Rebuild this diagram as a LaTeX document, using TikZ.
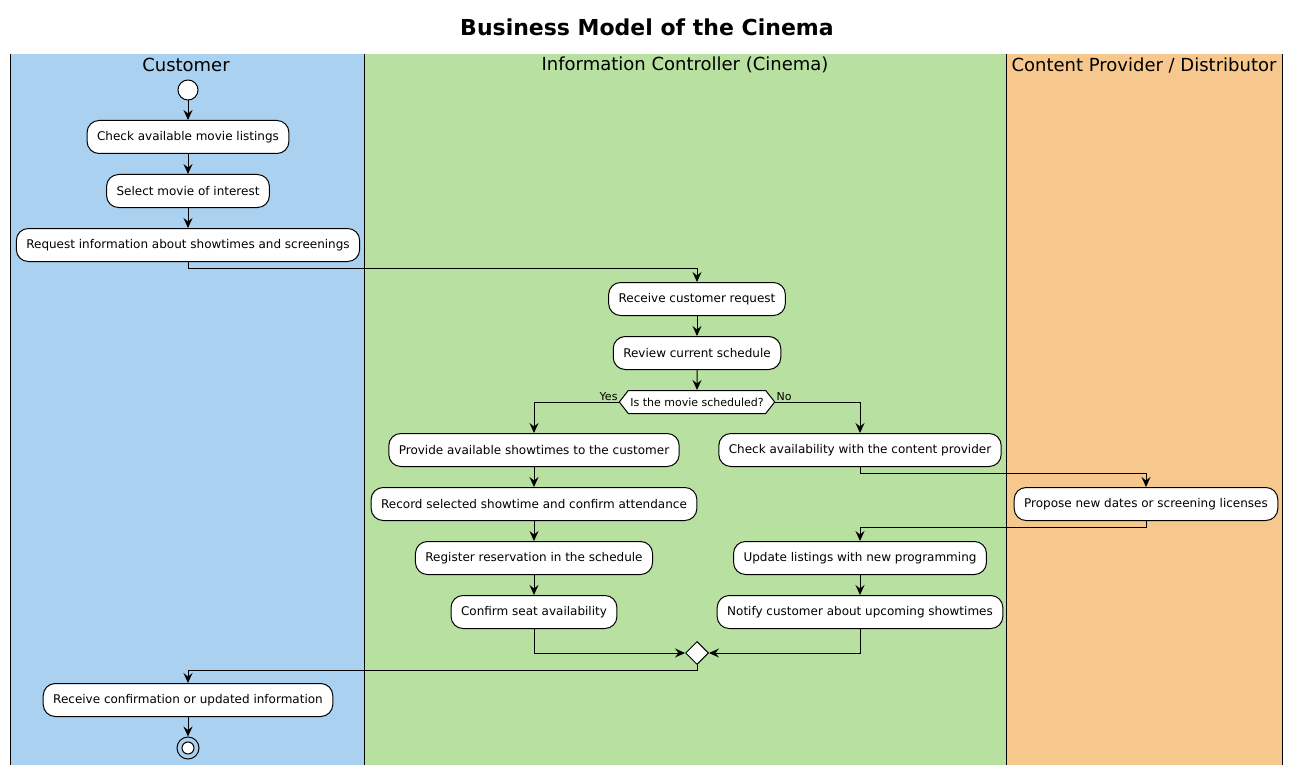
\documentclass[tikz,border=0pt]{standalone}
\usepackage{fontspec}
\setmainfont{DejaVu Sans}
\usetikzlibrary{arrows.meta,shapes.geometric,shapes.symbols}
\definecolor{laneblue}{RGB}{170,210,240}
\definecolor{lanegreen}{RGB}{184,224,160}
\definecolor{laneorange}{RGB}{246,200,142}
\tikzset{
  act/.style={draw=black,line width=1pt,fill=white,rounded corners=12pt,minimum height=33pt,inner xsep=10pt,font=\fontsize{12}{14}\selectfont},
  flow/.style={line width=1pt,-{Stealth[length=10pt,width=9pt,inset=3.5pt]}},
  lanehead/.style={font=\fontsize{18}{21}\selectfont},
  lanesep/.style={line width=1pt},
  guard/.style={font=\fontsize{11}{13}\selectfont,inner sep=1pt}
}
\begin{document}
\begin{tikzpicture}[x=1pt,y=-1pt]
\useasboundingbox (0,0) rectangle (1296,765);
\fill[white] (0,0) rectangle (1296,765);
% lanes
\fill[laneblue] (10,54) rectangle (364,765);
\fill[lanegreen] (364,54) rectangle (1006,765);
\fill[laneorange] (1006,54) rectangle (1282,765);
\draw[lanesep] (10,54) -- (10,765);
\draw[lanesep] (364,54) -- (364,765);
\draw[lanesep] (1006,54) -- (1006,765);
\draw[lanesep] (1282,54) -- (1282,765);
\node[font=\fontsize{22}{26}\selectfont\bfseries] (title) at (647,27) {Business Model of the Cinema};
\node[lanehead] (h1) at (186,65) {Customer};
\node[lanehead] (h2) at (685,65) {Information Controller (Cinema)};
\node[lanehead] (h3) at (1144,65) {Content Provider / Distributor};
% nodes
\node[circle,draw,line width=1pt,fill=white,minimum size=20pt,inner sep=0pt] (start) at (188,90) {};
\node[act] (a1) at (188,137) {Check available movie listings};
\node[act] (a2) at (188,191) {Select movie of interest};
\node[act] (a3) at (188,245) {Request information about showtimes and screenings};
\node[act] (b1) at (697,299) {Receive customer request};
\node[act] (b2) at (697,353) {Review current schedule};
\node[signal,signal to=west and east,signal pointer angle=104,draw,line width=1pt,fill=white,minimum height=23pt,inner xsep=2pt,inner ysep=0pt,font=\fontsize{11}{13}\selectfont] (d) at (697,402) {Is the movie scheduled?};
\node[act] (c1) at (534,450) {Provide available showtimes to the customer};
\node[act] (c2) at (534,504) {Record selected showtime and confirm attendance};
\node[act] (c3) at (534,558) {Register reservation in the schedule};
\node[act] (c4) at (534,612) {Confirm seat availability};
\node[act] (e1) at (860,450) {Check availability with the content provider};
\node[act] (p1) at (1146,504) {Propose new dates or screening licenses};
\node[act] (e2) at (860,558) {Update listings with new programming};
\node[act] (e3) at (860,612) {Notify customer about upcoming showtimes};
\node[diamond,draw,line width=1pt,fill=white,minimum width=23pt,minimum height=23pt,inner sep=0pt] (m) at (697,653) {};
\node[act] (r) at (188,700) {Receive confirmation or updated information};
\node[circle,draw,line width=1pt,minimum size=22pt,inner sep=0pt] (end) at (188,748) {};
\node[circle,draw,line width=1pt,fill=white,minimum size=12pt,inner sep=0pt] (endin) at (188,748) {};
% connectors
\draw[flow] (start) -- (a1);
\draw[flow] (a1) -- (a2);
\draw[flow] (a2) -- (a3);
\draw[flow] (a3.south) -- ++(0,6) -| (b1.north);
\draw[flow] (b1) -- (b2);
\draw[flow] (b2) -- (d);
\draw[flow] (d.west) -| (c1.north);
\draw[flow] (d.east) -| (e1.north);
\node[guard,anchor=south east] (yes) at (d.west) {Yes};
\node[guard,anchor=south west] (no) at (d.east) {No};
\draw[flow] (c1) -- (c2);
\draw[flow] (c2) -- (c3);
\draw[flow] (c3) -- (c4);
\draw[flow] (e1.south) -- ++(0,6) -| (p1.north);
\draw[flow] (p1.south) -- ++(0,6) -| (e2.north);
\draw[flow] (e2) -- (e3);
\draw[flow] (c4.south) |- (m.west);
\draw[flow] (e3.south) |- (m.east);
\draw[flow] (m.south) -- ++(0,5) -| (r.north);
\draw[flow] (r) -- (end);
\end{tikzpicture}
\end{document}
